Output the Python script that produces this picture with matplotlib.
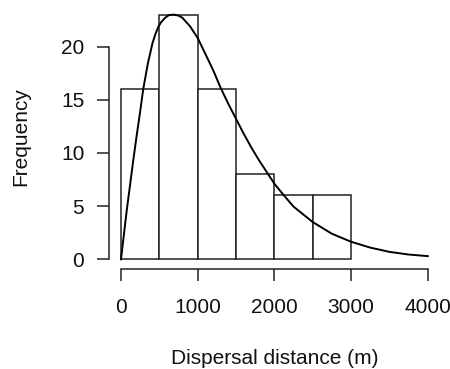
import numpy as np
import matplotlib
matplotlib.use("Agg")
import matplotlib.pyplot as plt

plt.rcParams['font.family'] = ['Liberation Sans', 'DejaVu Sans']

# histogram of dispersal distances
bin_edges = [0, 500, 1000, 1500, 2000, 2500, 3000]
counts = [16, 23, 16, 8, 6, 6]

# fitted density curve (scaled to frequency)
curve_x = [0, 75, 160, 200, 250, 290, 350, 410, 450, 490, 525, 575, 625, 690, 750, 800,
           900, 1000, 1100, 1200, 1300, 1400, 1500, 1600, 1700, 1800, 1900, 2000,
           2125, 2250, 2500, 2750, 3000, 3250, 3500, 3750, 4000]
curve_y = [0, 4.6, 9.3, 11.4, 13.9, 16.0, 18.4, 20.3, 21.2, 21.9, 22.3, 22.7, 22.95, 23.0,
           22.9, 22.7, 21.9, 20.8, 19.3, 17.8, 16.1, 14.6, 13.2, 11.8, 10.5, 9.3, 8.2,
           7.1, 6.0, 4.95, 3.5, 2.4, 1.65, 1.1, 0.7, 0.45, 0.3]

x_ticks = [0, 1000, 2000, 3000, 4000]
y_ticks = [0, 5, 10, 15, 20]

fig = plt.figure(figsize=(4.5, 3.69), dpi=100)
ax = fig.add_axes([0.2416, 0.2707, 0.7364, 0.7163])

ax.bar(bin_edges[:-1], counts, width=np.diff(bin_edges), align='edge',
       facecolor='white', edgecolor='#222222', linewidth=1.1)
ax.plot(curve_x, curve_y, color='black', linewidth=1.4)

ax.set_xlim(-160, 4160)
ax.set_ylim(-0.92, 23.92)
ax.set_xticks(x_ticks)
ax.set_yticks(y_ticks)

# R style axes
for side in ['top', 'right']:
    ax.spines[side].set_visible(False)
ax.spines['left'].set_bounds(0, 20)
ax.spines['bottom'].set_bounds(0, 4000)
for side in ['left', 'bottom']:
    ax.spines[side].set_linewidth(1.1)
    ax.spines[side].set_color('#222222')

ax.tick_params(axis='both', direction='out', length=8.6, width=1.1,
               color='#222222', labelsize=15, labelcolor='#111111')
ax.tick_params(axis='y', pad=9)
ax.tick_params(axis='x', pad=12.5)

ax.set_xlabel('Dispersal distance (m)', fontsize=15, color='#111111', labelpad=23)
ax.set_ylabel('Frequency', fontsize=15, color='#111111', labelpad=22)

fig.savefig('out.png', dpi=100)
